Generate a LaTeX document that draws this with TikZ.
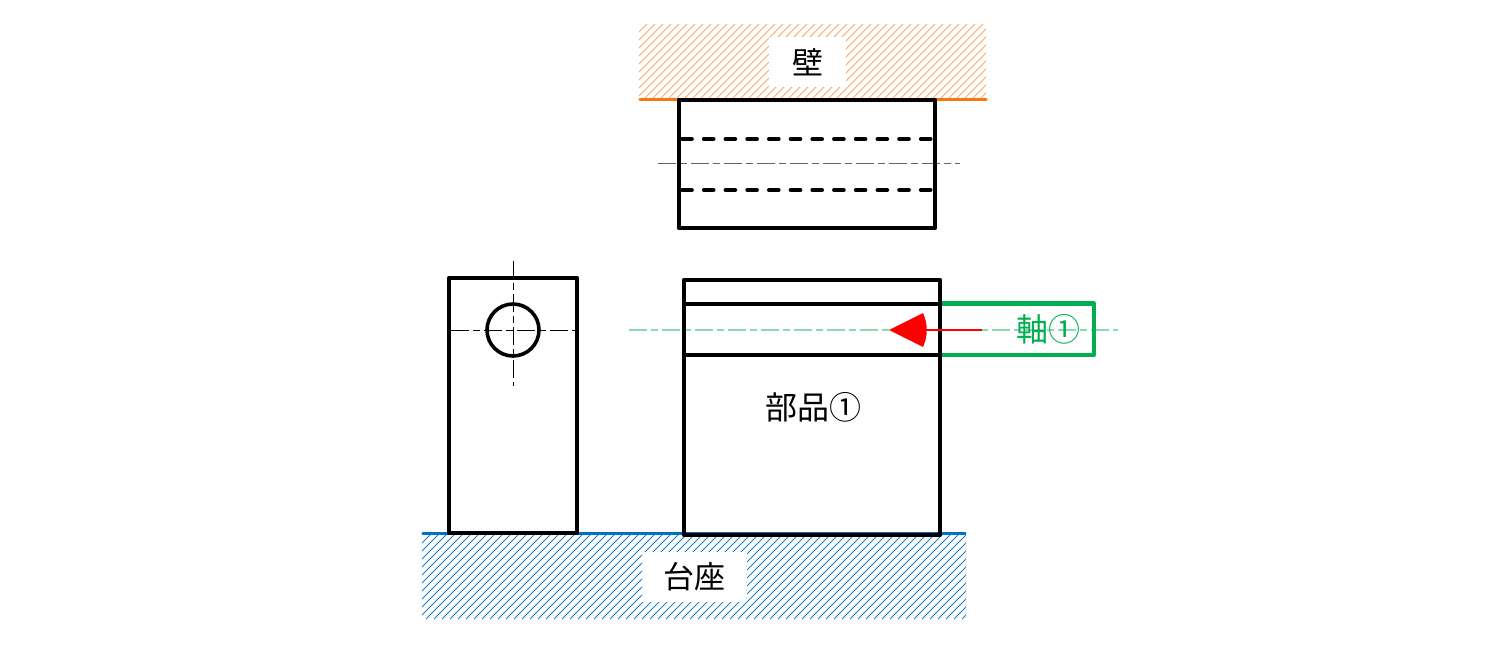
\documentclass[tikz,border=0pt]{standalone}
\usepackage{fontspec}
\setmainfont{Noto Sans CJK JP}
\definecolor{wallorange}{HTML}{F4770F}
\definecolor{hatchorange}{HTML}{F9A866}
\definecolor{baseblue}{HTML}{0070C0}
\definecolor{hatchblue}{HTML}{1A80CC}
\definecolor{axisgreen}{HTML}{00B050}
\definecolor{axislight}{HTML}{8FD9B0}
\tikzset{
	partline/.style={line width=4.2pt, black, line join=round},
	hiddenline/.style={line width=3.6pt, black, line cap=round, dash pattern=on 10pt off 11.7pt},
	centerline/.style={line width=1.2pt, dash pattern=on 18pt off 4pt on 7pt off 4pt},
	labelbox/.style={fill=white, inner sep=0pt, font=\fontsize{31}{31}\selectfont},
}
\begin{document}
\begin{tikzpicture}

\def\px{1pt}

\begin{scope}[x=\px,y=-\px]
\useasboundingbox (0,0) rectangle (1497,647);

% hatching
\begin{scope}
\clip (639,24) rectangle (986,99);
\foreach \a in {564,572,...,990}{
	\draw[hatchorange, line width=1pt] (\a,99) -- ++(75,-75);
}
\end{scope}
\begin{scope}
\clip (422,535) rectangle (966,619);
\foreach \a in {338,346,...,970}{
	\draw[hatchblue, line width=1pt] (\a,619) -- ++(84,-84);
}
\end{scope}

\node[labelbox, minimum width=77pt, minimum height=50pt] (wall) at(807.5,62) {壁};
\node[labelbox, minimum width=105pt, minimum height=50pt] (base) at(694.5,577) {台座};

\draw[axislight, centerline] (629,330) -- (1118,330);
\draw[black!60, centerline, line width=1pt] (658,164) -- (960,164);
\draw[black, centerline, line width=0.9pt] (451,330) -- (576,330);
\draw[black, centerline, line width=0.9pt] (513,261) -- (513,386);

\draw[wallorange, line width=3.2pt, line cap=round] (640,99.5) -- (986,99.5);
\draw[baseblue, line width=3.2pt, line cap=round] (423,533.5) -- (965,533.5);

% green frame of the shaft
\draw[axisgreen, line width=4.2pt, line join=round] (940,303.5) -- (1094,303.5) -- (1094,355) -- (940,355);

% outlines
\foreach \a\b\c\d in{
	679/100/935/228
	,449/278/577/533
	,684/280/940/535
}{
	\draw[partline] (\a,\b) rectangle (\c,\d);
}
\draw[partline] (684,304) -- (940,304);
\draw[partline] (684,355) -- (940,355);
\draw[partline, line width=3.6pt] (513,330) circle (26);

\draw[hiddenline] (682,139) -- (932,139);
\draw[hiddenline] (682,190) -- (934,190);

% arrow
\coordinate (arrowstart) at(982,330);
\coordinate (arrowtip) at(889,330);
\draw[red, line width=2.8pt] (arrowstart) -- (920,330);
\fill[red] (arrowtip) -- (923,313) .. controls (928,324) and (928,336) .. (923,347) -- cycle;

\node[inner sep=0pt, font=\fontsize{32}{32}\selectfont] (part) at(813,407) {部品①};
\node[inner sep=0pt, axisgreen, font=\fontsize{32}{32}\selectfont] (shaft) at(1048,329) {軸①};
\end{scope}

\end{tikzpicture}
\end{document}
